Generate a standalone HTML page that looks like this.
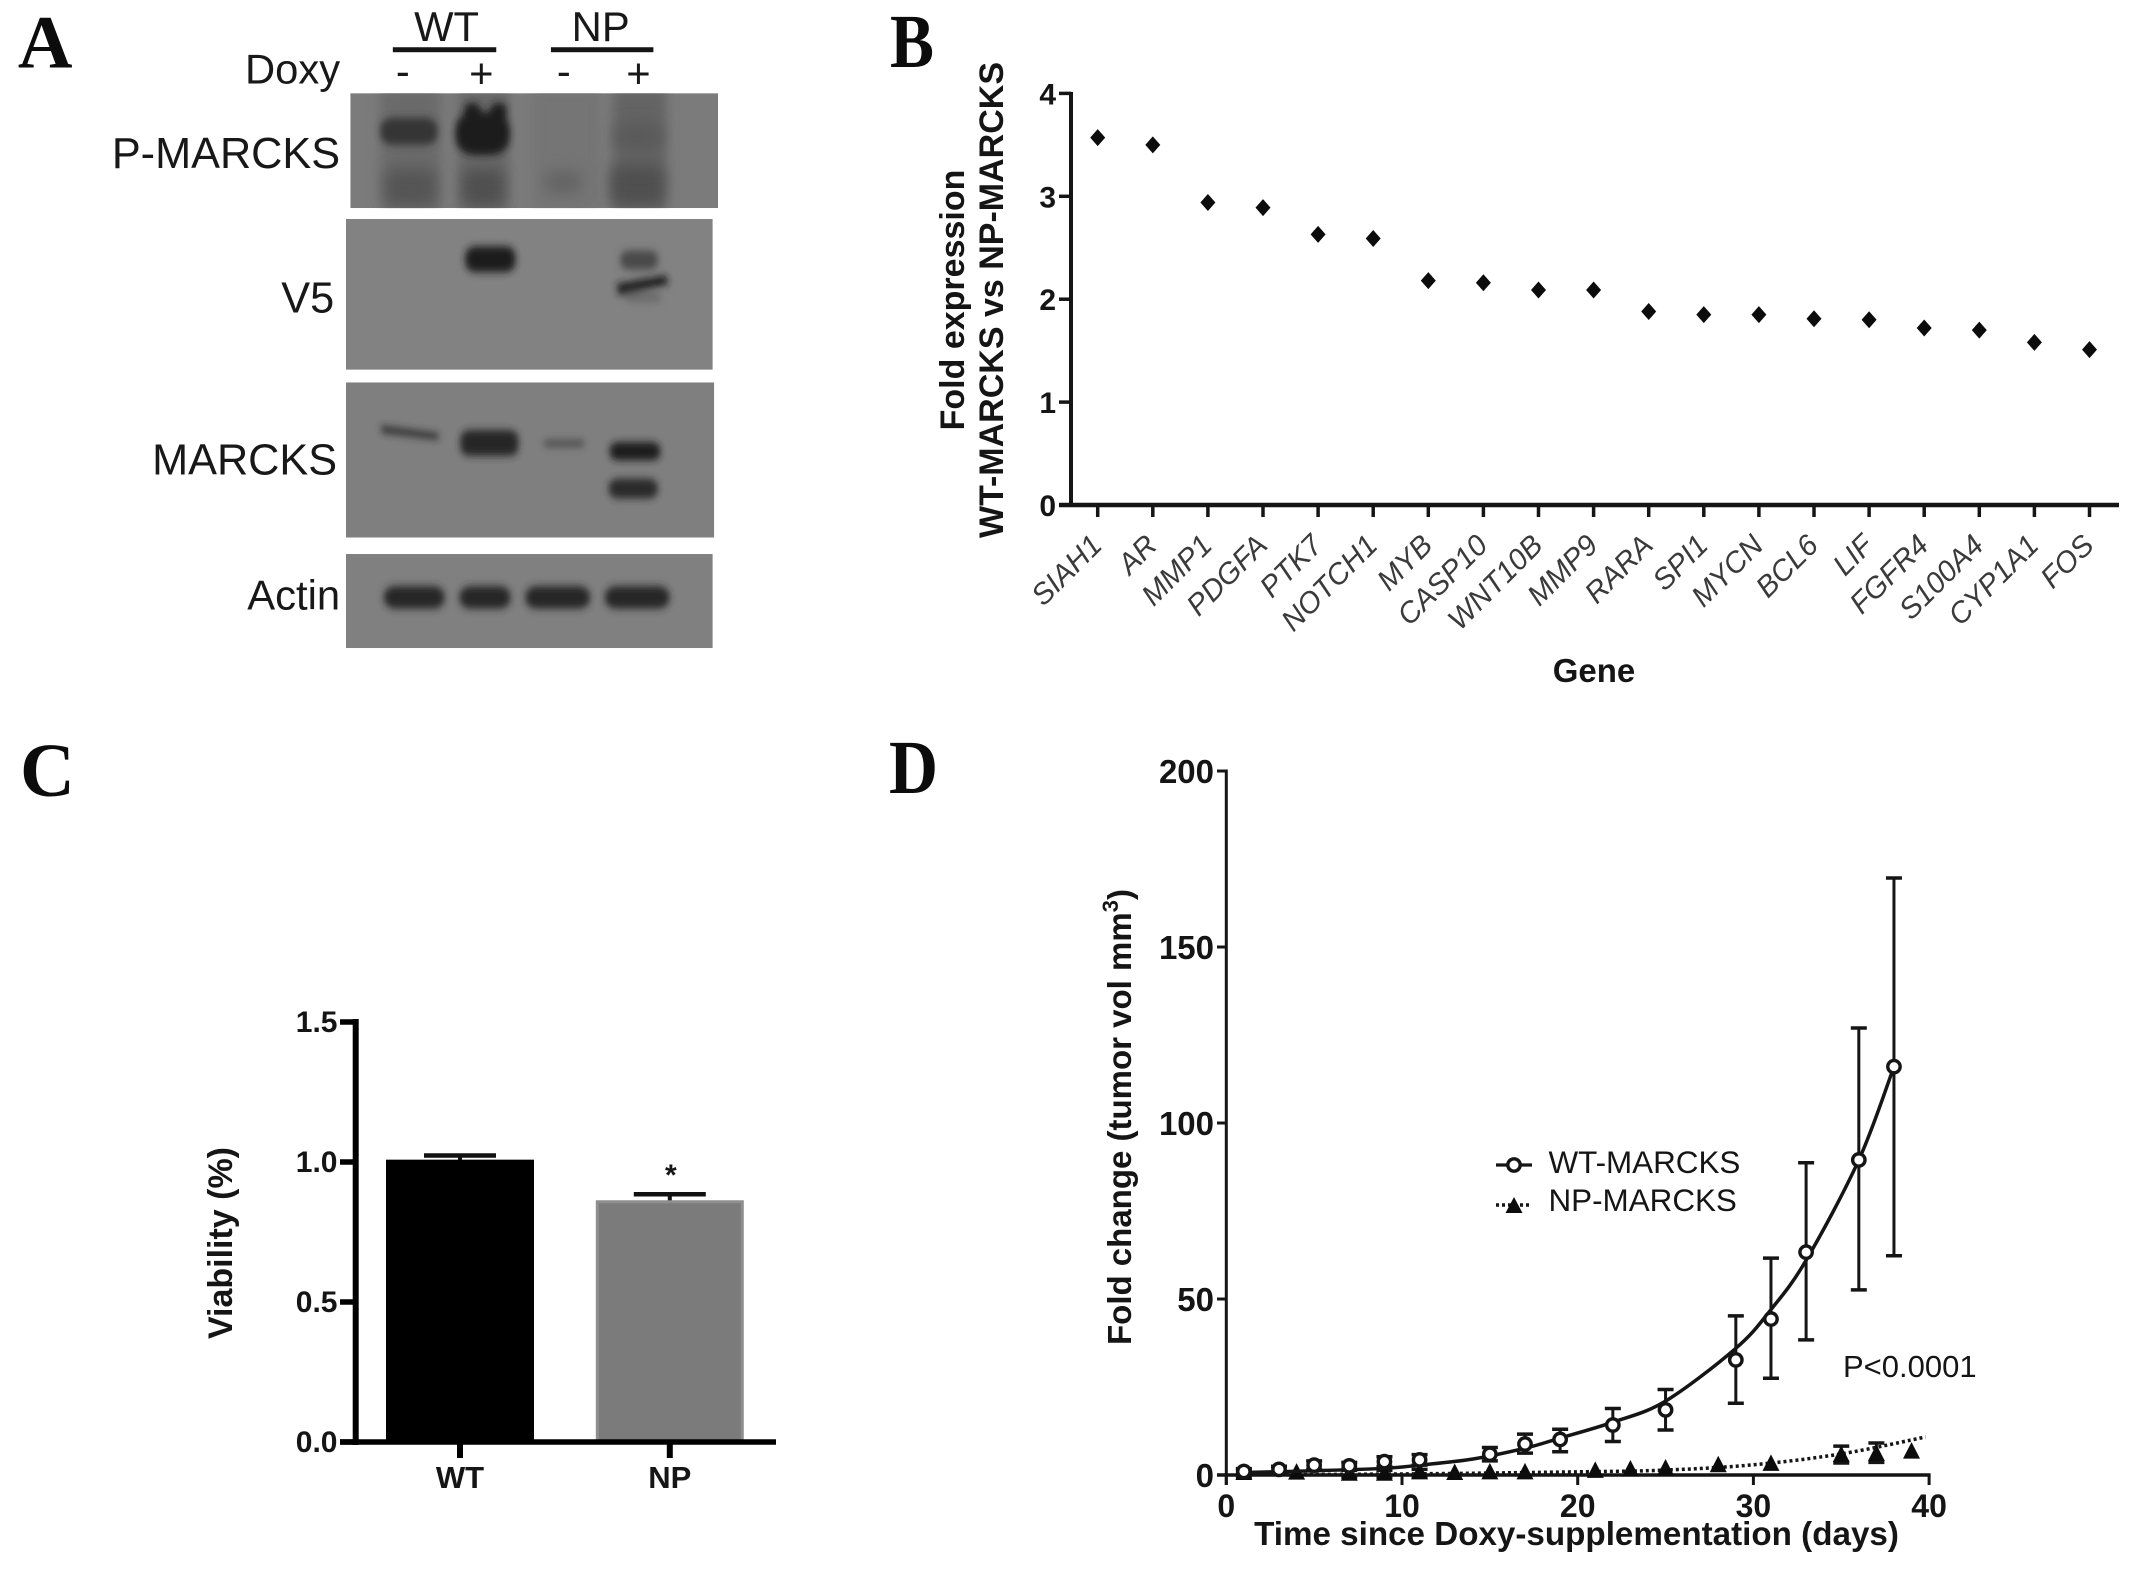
<!DOCTYPE html>
<html>
<head>
<meta charset="utf-8">
<title>MARCKS figure</title>
<style>
html,body{margin:0;padding:0;background:#fff;}
svg{display:block;font-family:"Liberation Sans",Arial,sans-serif;}
text{fill:#151515;}
.panel{font-family:"Liberation Serif",serif;font-weight:bold;font-size:76px;fill:#0c0c0c;}
.blot-label{font-size:42px;fill:#181818;}
.blot-label-lg{font-size:43.5px;fill:#181818;}
</style>
</head>
<body>
<svg id="fig" xmlns="http://www.w3.org/2000/svg" width="2150" height="1573" viewBox="0 0 2150 1573">
<defs>
  <filter id="b1" x="-40%" y="-60%" width="180%" height="220%"><feGaussianBlur stdDeviation="7 9"/></filter>
  <filter id="b2" x="-40%" y="-60%" width="180%" height="220%"><feGaussianBlur stdDeviation="12 14"/></filter>
  <filter id="b3" x="-40%" y="-60%" width="180%" height="220%"><feGaussianBlur stdDeviation="14 18"/></filter>
  <clipPath id="c1"><rect x="723" y="215" width="759" height="265"/></clipPath>
  <clipPath id="c2"><rect x="714" y="505" width="757" height="348"/></clipPath>
  <clipPath id="c3"><rect x="714" y="882" width="760" height="358"/></clipPath>
  <clipPath id="c4"><rect x="714" y="1278" width="757" height="217"/></clipPath>
</defs>

<g id="panel-a" transform="scale(0.9945)">
  <text class="panel" x="18" y="68">A</text>
  <text class="blot-label" x="449" y="41" text-anchor="middle">WT</text>
  <rect x="395" y="47.5" width="104" height="5" fill="#151515"/>
  <text class="blot-label" x="604" y="41" text-anchor="middle">NP</text>
  <rect x="554" y="47.5" width="103" height="5" fill="#151515"/>
  <text class="blot-label" x="342" y="84" text-anchor="end">Doxy</text>
  <text class="blot-label" x="405" y="86" text-anchor="middle">-</text>
  <text class="blot-label" x="484" y="88" text-anchor="middle">+</text>
  <text class="blot-label" x="567" y="86" text-anchor="middle">-</text>
  <text class="blot-label" x="642" y="88" text-anchor="middle">+</text>
  <text class="blot-label-lg" x="342" y="169" text-anchor="end">P-MARCKS</text>
  <text class="blot-label-lg" x="336" y="314" text-anchor="end">V5</text>
  <text class="blot-label-lg" x="339" y="477" text-anchor="end">MARCKS</text>
  <text class="blot-label" x="342" y="613" text-anchor="end">Actin</text>

  <g transform="scale(0.4872,0.4359)">
    <g clip-path="url(#c1)">
      <rect x="723" y="215" width="759" height="265" fill="#7b7b7b"/>
      <g filter="url(#b2)">
        <rect x="785" y="205" width="125" height="285" fill="#6a6a6a"/>
        <rect x="945" y="205" width="105" height="285" fill="#686868"/>
        <rect x="1100" y="205" width="140" height="285" fill="#757575"/>
        <rect x="1265" y="205" width="110" height="285" fill="#636363"/>
      </g>
      <g filter="url(#b1)">
        <rect x="785" y="272" width="118" height="62" rx="25" fill="#363636"/>
        <rect x="940" y="258" width="112" height="100" rx="40" fill="#1f1f1f"/>
        <rect x="958" y="238" width="34" height="40" rx="15" fill="#1f1f1f"/>
        <rect x="1012" y="238" width="34" height="40" rx="15" fill="#1f1f1f"/>
      </g>
      <g filter="url(#b3)">
        <rect x="795" y="390" width="105" height="85" rx="15" fill="#555"/>
        <rect x="955" y="390" width="85" height="85" rx="15" fill="#505050"/>
        <rect x="1125" y="395" width="75" height="50" rx="15" fill="#646464"/>
        <rect x="1260" y="382" width="110" height="90" rx="15" fill="#4f4f4f"/>
        <rect x="1268" y="285" width="100" height="60" rx="20" fill="#5a5a5a"/>
      </g>
    </g>
    <g clip-path="url(#c2)">
      <rect x="714" y="505" width="757" height="348" fill="#828282"/>
      <g filter="url(#b1)">
        <rect x="960" y="568" width="104" height="60" rx="22" fill="#1f1f1f"/>
        <rect x="1280" y="578" width="78" height="44" rx="18" fill="#4a4a4a"/>
        <path d="M1272 655 L1375 635 L1380 655 L1278 682 Z" fill="#1e1e1e"/>
        <rect x="1290" y="675" width="75" height="22" rx="10" fill="#6a6a6a"/>
      </g>
    </g>
    <g clip-path="url(#c3)">
      <rect x="714" y="882" width="760" height="358" fill="#7f7f7f"/>
      <g filter="url(#b1)">
        <path d="M787 982 L905 1000 L905 1014 L787 998 Z" fill="#2a2a2a"/>
        <rect x="950" y="992" width="120" height="60" rx="20" fill="#252525"/>
        <rect x="1122" y="1015" width="85" height="16" rx="8" fill="#4e4e4e"/>
        <rect x="1258" y="1020" width="105" height="42" rx="18" fill="#1c1c1c"/>
        <rect x="1256" y="1104" width="102" height="46" rx="20" fill="#292929"/>
      </g>
    </g>
    <g clip-path="url(#c4)">
      <rect x="714" y="1278" width="757" height="217" fill="#808080"/>
      <g filter="url(#b1)">
        <rect x="792" y="1352" width="126" height="52" rx="24" fill="#252525"/>
        <rect x="948" y="1352" width="106" height="52" rx="24" fill="#252525"/>
        <rect x="1084" y="1352" width="134" height="52" rx="24" fill="#252525"/>
        <rect x="1248" y="1352" width="134" height="52" rx="24" fill="#252525"/>
      </g>
    </g>
  </g>
</g>

<text class="panel" x="890" y="67" textLength="44" lengthAdjust="spacingAndGlyphs">B</text>
<text class="panel" x="20" y="796">C</text>
<text class="panel" x="889" y="793" textLength="49" lengthAdjust="spacingAndGlyphs">D</text>

<g id="panel-b"></g>
<g id="panel-c"></g>
<g id="panel-d"></g>
</svg>

<script>
// Panel B data
const geneNames = ["SIAH1","AR","MMP1","PDGFA","PTK7","NOTCH1","MYB","CASP10","WNT10B","MMP9","RARA","SPI1","MYCN","BCL6","LIF","FGFR4","S100A4","CYP1A1","FOS"];
const foldValues = [3.57,3.50,2.94,2.89,2.63,2.59,2.18,2.16,2.09,2.09,1.88,1.85,1.85,1.81,1.80,1.72,1.70,1.58,1.51];
const foldTicks = [0,1,2,3,4];

// Panel C data
const viabilityGroups = ["WT","NP"];
const viabilityValues = [1.003,0.858];
const viabilityErrors = [0.02,0.027];
const viabilityTicks = ["0.0","0.5","1.0","1.5"];
const viabilitySignificance = ["","*"];

// Panel D data
const wtDays = [1,3,5,7,9,11,15,17,19,22,25,29,31,33,36,38];
const wtMeans = [1.0,1.6,2.8,2.6,3.8,4.3,5.9,8.8,10.1,14.2,18.5,32.7,44.3,63.3,89.5,116];
const wtUpper = [1.8,2.5,4.0,3.6,5.2,5.8,7.8,11.6,13,18.9,24.3,45.2,61.6,88.7,127,169.6];
const wtLower = [0.4,0.9,1.6,1.6,2.4,2.8,4,6.2,6.6,9.5,12.8,20.4,27.5,38.4,52.6,62.3];
const wtCurveDays = [1,5,9,11,14,17,19,22,25,29,31,33,36,38];
const wtCurveValues = [0.7,1.2,1.9,2.8,4.5,7.6,10.5,15,21,36,47,61,89.5,116];
const npDays = [1,4,7,9,11,13,15,17,21,23,25,28,31,35,37,39];
const npMeans = [0.7,0.8,0.5,0.5,0.9,0.7,0.9,0.9,1.3,1.7,2,2.9,3.3,5.8,6.1,6.8];
const npUpper = [1.5,0.8,1.3,1.3,1.6,0.7,0.9,0.9,1.3,1.7,2,2.9,3.3,8.2,9.1,6.8];
const npLower = [-0.5,0.8,-0.6,-0.6,-0.4,0.7,0.9,0.9,1.3,1.7,2,2.9,3.3,3.4,3.6,6.8];
const npCurveDays = [1,10,20,25,30,35,39.8];
const npCurveValues = [0.1,0.3,0.9,1.4,2.9,6,10.8];
const tumorYTicks = [0,50,100,150,200];
const tumorXTicks = [0,10,20,30,40];

const NS = "http://www.w3.org/2000/svg";
function make(tag, attrs, parent, txt) {
  const n = document.createElementNS(NS, tag);
  for (const k in attrs) n.setAttribute(k, attrs[k]);
  if (txt !== undefined) n.textContent = txt;
  parent.appendChild(n);
  return n;
}
function smooth(pts) {
  let d = "M" + pts[0][0] + " " + pts[0][1];
  for (let i = 0; i < pts.length - 1; i++) {
    const p0 = pts[Math.max(i - 1, 0)], p1 = pts[i], p2 = pts[i + 1], p3 = pts[Math.min(i + 2, pts.length - 1)];
    d += " C" + (p1[0] + (p2[0] - p0[0]) / 6) + " " + (p1[1] + (p2[1] - p0[1]) / 6) + " " +
      (p2[0] - (p3[0] - p1[0]) / 6) + " " + (p2[1] - (p3[1] - p1[1]) / 6) + " " + p2[0] + " " + p2[1];
  }
  return d;
}

// ---------- Panel B ----------
(function () {
  const g = document.getElementById("panel-b");
  const xB = i => 1097.7 + 55.1 * i;
  const yB = v => 505 - 102.9 * v;
  let n;
  n = make("line", {x1: 1071, y1: yB(4) - 1.5, x2: 1071, y2: yB(0) + 2, stroke: "#151515", "stroke-width": 4}, g);
  
  
  n = make("line", {x1: 1059, y1: yB(0), x2: 2119, y2: yB(0), stroke: "#151515", "stroke-width": 4.5}, g);
  
  
  foldTicks.forEach(t => {
    let m = make("line", {x1: 1059, y1: yB(t), x2: 1071, y2: yB(t), stroke: "#151515", "stroke-width": 3.5}, g);
    
    
    m = make("text", {x: 1056, y: yB(t) + 11, "text-anchor": "end", "font-size": 30, "font-weight": "bold"}, g, String(t));
    
    
  });
  geneNames.forEach((name, i) => {
    const x = xB(i);
    let m = make("line", {x1: x, y1: yB(0), x2: x, y2: 517, stroke: "#151515", "stroke-width": 3.5}, g);
    
    
    m = make("text", {x: x + 6, y: 547, "text-anchor": "end", "font-size": 29.5, "font-style": "italic", style: "fill:#3a3a3a", transform: "rotate(-45 " + (x + 6) + " 547)"}, g, name);
    
    
    const cy = yB(foldValues[i]);
    m = make("polygon", {points: (x - 7.5) + "," + cy + " " + x + "," + (cy - 8.5) + " " + (x + 7.5) + "," + cy + " " + x + "," + (cy + 8.5), fill: "#0c0c0c"}, g);
    
    
  });
  n = make("text", {x: 0, y: 0, "text-anchor": "middle", "font-size": 34, "font-weight": "bold", transform: "translate(964 300) rotate(-90)"}, g, "Fold expression");
  
  
  n = make("text", {x: 0, y: 0, "text-anchor": "middle", "font-size": 34, "font-weight": "bold", transform: "translate(1003 300) rotate(-90)"}, g, "WT-MARCKS vs NP-MARCKS");
  
  
  n = make("text", {x: 1594, y: 682, "text-anchor": "middle", "font-size": 33, "font-weight": "bold"}, g, "Gene");
  
  
})();

// ---------- Panel C ----------
(function () {
  const g = document.getElementById("panel-c");
  const yC = v => 1442 - 280 * v;
  const xC = i => 460 + 209.8 * i;
  const barHalf = 72.5;
  const fills = ["#000", "#7b7b7b"];
  const edges = ["#000", "#8f8f8f"];
  viabilityGroups.forEach((name, i) => {
    const x = xC(i), top = yC(viabilityValues[i]), ey = yC(viabilityValues[i] + viabilityErrors[i]);
    let m = make("line", {x1: x, y1: top, x2: x, y2: ey, stroke: "#111", "stroke-width": 4}, g);
    
    
    m = make("line", {x1: x - 36, y1: ey, x2: x + 36, y2: ey, stroke: "#111", "stroke-width": 4.5}, g);
    
    
    m = make("rect", {x: x - barHalf, y: top, width: 2 * barHalf, height: yC(0) - top, fill: fills[i], stroke: edges[i], "stroke-width": 3}, g);
    
    
    m = make("line", {x1: x, y1: yC(0), x2: x, y2: 1458, stroke: "#000", "stroke-width": 6}, g);
    
    
    m = make("text", {x: x, y: 1488, "text-anchor": "middle", "font-size": 31, "font-weight": "bold"}, g, name);
    
    
    if (viabilitySignificance[i]) {
      m = make("text", {x: x + 1, y: ey - 9, "text-anchor": "middle", "font-size": 30, "font-weight": "bold"}, g, viabilitySignificance[i]);
      
      
    }
  });
  let n = make("line", {x1: 355.7, y1: yC(1.5) - 3, x2: 355.7, y2: yC(0) + 3, stroke: "#000", "stroke-width": 6}, g);
  
  
  n = make("line", {x1: 340, y1: yC(0), x2: 776, y2: yC(0), stroke: "#000", "stroke-width": 5.5}, g);
  
  
  viabilityTicks.forEach(t => {
    const v = parseFloat(t);
    let m = make("line", {x1: 340, y1: yC(v), x2: 356, y2: yC(v), stroke: "#000", "stroke-width": 5.5}, g);
    
    
    m = make("text", {x: 337.5, y: yC(v) + 10, "text-anchor": "end", "font-size": 30, "font-weight": "bold"}, g, t);
    
    
  });
  n = make("text", {x: 0, y: 0, "text-anchor": "middle", "font-size": 34, "font-weight": "bold", textLength: 192, lengthAdjust: "spacingAndGlyphs", transform: "translate(232 1243) rotate(-90)"}, g, "Viability (%)");
  
  
})();

// ---------- Panel D ----------
(function () {
  const g = document.getElementById("panel-d");
  const xD = d => 1226.3 + 17.57 * d;
  const yD = v => 1475 - 3.52 * v;
  let n;
  n = make("line", {x1: xD(0), y1: yD(200) - 1.5, x2: xD(0), y2: yD(0) + 10, stroke: "#151515", "stroke-width": 3}, g);
  
  
  n = make("line", {x1: 1217, y1: yD(0), x2: xD(40) + 1.5, y2: yD(0), stroke: "#151515", "stroke-width": 3.5}, g);
  
  
  tumorYTicks.forEach(t => {
    let m = make("line", {x1: 1217, y1: yD(t), x2: xD(0), y2: yD(t), stroke: "#151515", "stroke-width": 3}, g);
    
    
    m = make("text", {x: 1214, y: yD(t) + 12, "text-anchor": "end", "font-size": 33, "font-weight": "bold"}, g, String(t));
    
    
  });
  tumorXTicks.forEach(t => {
    let m = make("line", {x1: xD(t), y1: yD(0), x2: xD(t), y2: yD(0) + 10, stroke: "#151515", "stroke-width": 3}, g);
    
    
    m = make("text", {x: xD(t), y: 1517, "text-anchor": "middle", "font-size": 32, "font-weight": "bold"}, g, String(t));
    
    
  });
  n = make("text", {x: 1576.5, y: 1545, "text-anchor": "middle", "font-size": 33.2, "font-weight": "bold"}, g, "Time since Doxy-supplementation (days)");
  
  
  n = make("text", {x: 0, y: 0, "font-size": 33, "font-weight": "bold", transform: "translate(1131 1345) rotate(-90)"}, g);
  
  
  make("tspan", {}, n, "Fold change (tumor vol mm");
  make("tspan", {dy: -13, "font-size": 22}, n, "3");
  make("tspan", {dy: 13}, n, ")");

  // NP series
  n = make("path", {d: smooth(npCurveDays.map((d, i) => [xD(d), yD(npCurveValues[i])])), fill: "none", stroke: "#151515", "stroke-width": 3.5, "stroke-dasharray": "3 3"}, g);
  
  
  npDays.forEach((d, i) => {
    const x = xD(d), y = yD(npMeans[i]);
    let m;
    if (npUpper[i] !== npLower[i]) {
      m = make("line", {x1: x, y1: yD(npUpper[i]), x2: x, y2: yD(npLower[i]), stroke: "#151515", "stroke-width": 3}, g);
      
      
      m = make("line", {x1: x - 8, y1: yD(npUpper[i]), x2: x + 8, y2: yD(npUpper[i]), stroke: "#151515", "stroke-width": 3.5}, g);
      
      
      m = make("line", {x1: x - 8, y1: yD(npLower[i]), x2: x + 8, y2: yD(npLower[i]), stroke: "#151515", "stroke-width": 3.5}, g);
      
      
    }
    m = make("polygon", {points: (x - 8.5) + "," + (y + 7.5) + " " + x + "," + (y - 9) + " " + (x + 8.5) + "," + (y + 7.5), fill: "#0c0c0c"}, g);
    
    
  });

  // WT series
  n = make("path", {d: smooth(wtCurveDays.map((d, i) => [xD(d), yD(wtCurveValues[i])])), fill: "none", stroke: "#151515", "stroke-width": 3.5}, g);
  
  
  wtDays.forEach((d, i) => {
    const x = xD(d), y = yD(wtMeans[i]), up = yD(wtUpper[i]), lo = yD(wtLower[i]);
    let m = make("line", {x1: x, y1: up, x2: x, y2: lo, stroke: "#151515", "stroke-width": 3}, g);
    
    
    m = make("line", {x1: x - 8, y1: up, x2: x + 8, y2: up, stroke: "#151515", "stroke-width": 3.5}, g);
    
    
    m = make("line", {x1: x - 8, y1: lo, x2: x + 8, y2: lo, stroke: "#151515", "stroke-width": 3.5}, g);
    
    
    m = make("circle", {cx: x, cy: y, r: 6.2, fill: "#fff", stroke: "#151515", "stroke-width": 3.4}, g);
    
    
  });

  // Legend
  const lg = make("g", {}, g);
  
  
  n = make("line", {x1: 1496, y1: 1165, x2: 1532, y2: 1165, stroke: "#151515", "stroke-width": 3.2}, lg);
  
  
  n = make("circle", {cx: 1514, cy: 1165, r: 6.2, fill: "#fff", stroke: "#151515", "stroke-width": 3.4}, lg);
  
  
  n = make("text", {x: 1548.5, y: 1173, "font-size": 31.4}, lg, "WT-MARCKS");
  
  
  n = make("line", {x1: 1496, y1: 1205, x2: 1532, y2: 1205, stroke: "#151515", "stroke-width": 3.5, "stroke-dasharray": "3 3"}, lg);
  
  
  n = make("polygon", {points: "1505.5,1213 1514,1197 1522.5,1213", fill: "#0c0c0c"}, lg);
  
  
  n = make("text", {x: 1548.5, y: 1211, "font-size": 31.4}, lg, "NP-MARCKS");
  
  
  n = make("text", {x: 1843, y: 1377, "font-size": 31}, g, "P<0.0001");
  
  
})();
</script>
</body>
</html>
